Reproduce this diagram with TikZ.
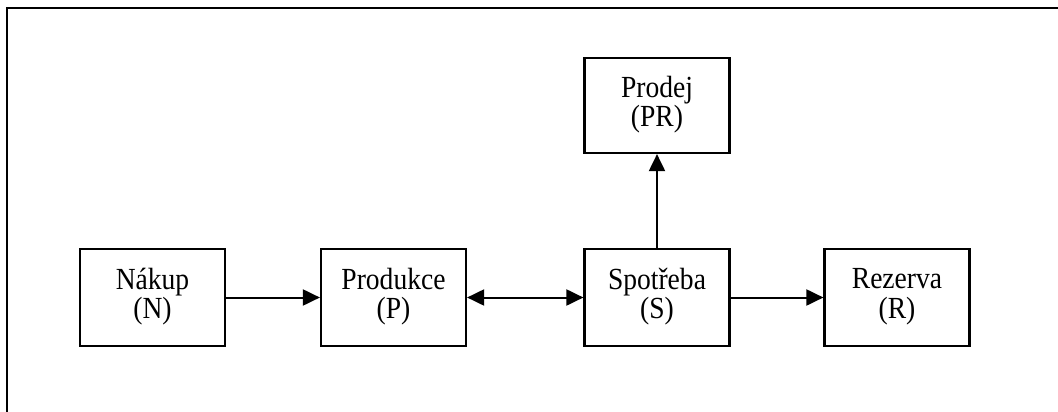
\documentclass[tikz,border=0pt]{standalone}
\usepackage{fontspec}
\setmainfont{Liberation Serif}
\usetikzlibrary{arrows.meta}
% two-line label, set slightly taller than wide
\newcommand\boxlabel[2]{\scalebox{1.06}[1.18]{\fontsize{26}{23.5}\selectfont\begin{tabular}{@{}c@{}}#1\\#2\end{tabular}}}
\begin{document}
\begin{tikzpicture}[x=1pt,y=-1pt,
  stagebox/.style={draw,line width=2.2pt,minimum width=145pt,minimum height=97pt,inner sep=0pt},
  flow/.style={line width=2pt,-{Triangle[length=17pt,width=16pt]}},
  twoway/.style={line width=2pt,{Triangle[length=17pt,width=16pt]}-{Triangle[length=17pt,width=16pt]}}]
\useasboundingbox (0,0) rectangle (1058,412);
% outer frame (top and left edges)
\draw[line width=2.4pt] (1058,8) -- (7,8) -- (7,412);
% stages
\node[stagebox] (N)  at (152.5,297.5) {\boxlabel{Nákup}{(N)}};
\node[stagebox] (P)  at (393.5,297.5) {\boxlabel{Produkce}{(P)}};
\node[stagebox] (S)  at (657,297.5)   {\boxlabel{Spotřeba}{(S)}};
\node[stagebox] (R)  at (897,297.5)   {\boxlabel{Rezerva}{(R)}};
\node[stagebox,minimum height=95pt] (PR) at (657,105.5) {\boxlabel{Prodej}{(PR)}};
% flows
\draw[flow]   (N) -- (P);
\draw[twoway] (P) -- (S);
\draw[flow]   (S) -- (R);
\draw[flow]   (S) -- (PR);
\end{tikzpicture}
\end{document}
